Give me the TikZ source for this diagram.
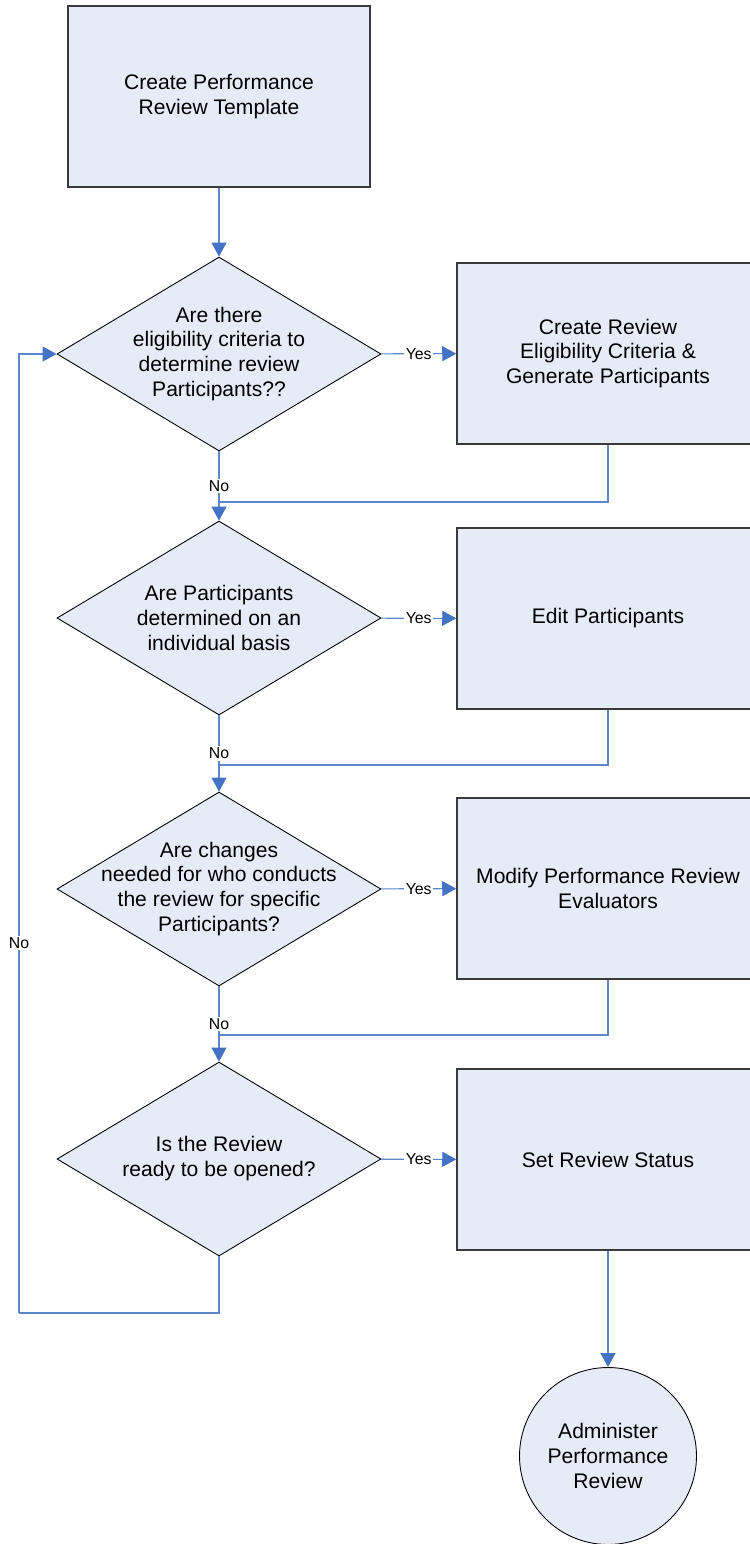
\documentclass[tikz,border=0pt]{standalone}
\usepackage{fontspec}
\setmainfont{Liberation Sans}
\usetikzlibrary{shapes, arrows.meta, positioning}
\definecolor{flowfill}{HTML}{E6ECF7}
\definecolor{flowline}{HTML}{5B87C8}
\definecolor{flowtip}{HTML}{4472C4}
\definecolor{flowedge}{HTML}{3A3A3A}

\begin{document}
\begin{tikzpicture}[x=0.02cm, y=-0.02cm,
      box/.style={draw=flowedge, line width=0.9pt, fill=flowfill,
                   minimum width=6.04cm, minimum height=3.62cm,
                   font=\fontsize{12}{14.2}\selectfont, align=center},
      dec/.style={diamond, draw=black, line width=0.5pt, fill=flowfill,
                   minimum width=6.48cm, minimum height=3.88cm, inner sep=0pt},
      txt/.style={font=\fontsize{12}{14.2}\selectfont, align=center},
      term/.style={circle, draw=black, line width=0.5pt, fill=flowfill,
                   minimum size=3.54cm, font=\fontsize{12}{14.2}\selectfont, align=center},
      arr/.style={-{Triangle[length=0.28cm, width=0.3cm, color=flowtip]}, line width=0.6pt, flowline},
      line/.style={line width=0.6pt, flowline},
      lbl/.style={fill=white, text=black, inner sep=1pt, font=\fontsize{9}{10}\selectfont}
    ]
      \clip (0,0) rectangle (750,1544);

      \node[box] (tmpl) at (219,96.5) {Create Performance\\Review Template};

      \node[dec, label={[txt]center:Are there\\eligibility criteria to\\determine review\\Participants??}] (q1) at (219,354) {};
      \node[box] (crit) at (608,353.5) {Create Review\\Eligibility Criteria \&\\Generate Participants};

      \node[dec, label={[txt]center:Are Participants\\determined on an\\individual basis}] (q2) at (219,618) {};
      \node[box] (edit) at (608,618.5) {Edit Participants};

      \node[dec, label={[txt]center:Are changes\\needed for who conducts\\the review for specific\\Participants?}] (q3) at (219,889) {};
      \node[box] (eval) at (608,888.5) {Modify Performance Review\\Evaluators};

      \node[dec, label={[txt]center:Is the Review\\ready to be opened?}] (q4) at (219,1159) {};
      \node[box] (stat) at (608,1159.5) {Set Review Status};

      \node[term] (admin) at (608,1456) {Administer\\Performance\\Review};

      % merge points and loop corner
      \coordinate (m1) at (219,502);
      \coordinate (m2) at (219,765);
      \coordinate (m3) at (219,1035);
      \coordinate (back) at (19,1313);

      \draw[arr] (tmpl) -- (q1);

      \draw[arr] (q1) -- node[lbl] {Yes} (crit);
      \draw[arr] (q1) -- node[lbl, pos=0.5] {No} (q2);
      \draw[line] (crit) |- (m1);

      \draw[arr] (q2) -- node[lbl] {Yes} (edit);
      \draw[arr] (q2) -- node[lbl, pos=0.5] {No} (q3);
      \draw[line] (edit) |- (m2);

      \draw[arr] (q3) -- node[lbl] {Yes} (eval);
      \draw[arr] (q3) -- node[lbl, pos=0.5] {No} (q4);
      \draw[line] (eval) |- (m3);

      \draw[arr] (q4) -- node[lbl] {Yes} (stat);
      \draw[line] (q4.south) |- (back);
      \draw[arr] (back) |- node[lbl, pos=0.193] {No} (q1.west);

      \draw[arr] (stat) -- (admin);
    \end{tikzpicture}
\end{document}
